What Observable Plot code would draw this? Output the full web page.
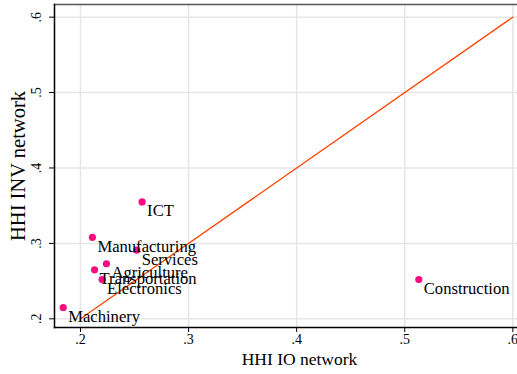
<!DOCTYPE html>
<html>
<head>
<meta charset="utf-8">
<script src="https://cdn.jsdelivr.net/npm/d3@7"></script>
<script src="https://cdn.jsdelivr.net/npm/@observablehq/plot@0.6"></script>
<style>
  html, body { margin: 0; padding: 0; background: #fff; overflow: hidden; }
  #chart { width: 517px; height: 374px; overflow: hidden; }
  #chart svg { max-width: none !important; }
</style>
</head>
<body>
<div id="chart"></div>
<script>
const sectors = ["Machinery", "Manufacturing", "ICT", "Services", "Agriculture", "Transportation", "Electronics", "Construction"];
const hhiIO  = [0.184, 0.211, 0.257, 0.252, 0.224, 0.213, 0.220, 0.513];
const hhiINV = [0.215, 0.308, 0.355, 0.291, 0.273, 0.265, 0.252, 0.252];
const fitX = [0.2, 0.6];
const fitY = [0.2, 0.6];
const ticks = [0.2, 0.3, 0.4, 0.5, 0.6];

const pts = sectors.map((s, i) => ({name: s, x: hhiIO[i], y: hhiINV[i]}));
const fit = fitX.map((x, i) => ({x, y: fitY[i]}));
const fmt = d => d3.format(".1f")(d).replace(/^0/, "");
const serif = "'Liberation Serif', 'Times New Roman', serif";

const chart = Plot.plot({
  width: 544,
  height: 374,
  marginLeft: 54,
  marginRight: 0,
  marginTop: 4,
  marginBottom: 47,
  style: {fontFamily: serif, background: "#fff", overflow: "visible", maxWidth: "none"},
  x: {domain: [0.17594, 0.6293]},
  y: {domain: [0.18846, 0.6168]},
  marks: [
    Plot.gridX(ticks, {stroke: "#e6e6e6", strokeOpacity: 1, strokeWidth: 1.5}),
    Plot.gridY(ticks, {stroke: "#e6e6e6", strokeOpacity: 1, strokeWidth: 1.5}),
    Plot.frame({anchor: "top", stroke: "#555", strokeWidth: 1.5}),
    Plot.frame({anchor: "left", stroke: "#000", strokeWidth: 1.5}),
    Plot.frame({anchor: "bottom", stroke: "#000", strokeWidth: 1.5}),
    Plot.axisX(ticks, {tickFormat: fmt, tickSize: 5, tickPadding: 2, fontSize: 14, label: "HHI IO network", labelAnchor: "center", labelArrow: "none", labelOffset: 37}),
    Plot.axisY(ticks, {tickFormat: fmt, tickSize: 5, tickPadding: 9, tickRotate: -90, fontSize: 14, label: "HHI INV network", labelAnchor: "center", labelArrow: "none", labelOffset: 44}),
    Plot.line(fit, {x: "x", y: "y", stroke: "#ff4500", strokeWidth: 1.3}),
    Plot.dot(pts, {x: "x", y: "y", r: 3.6, fill: "#ff0a80", stroke: "none"}),
    Plot.text(pts, {x: "x", y: "y", text: "name", textAnchor: "start", lineAnchor: "bottom", dx: 5, dy: 14.5, fontSize: 16.6, fill: "#000"})
  ]
});
document.getElementById("chart").appendChild(chart);
chart.querySelectorAll("text").forEach(t => {
  if (t.textContent === "HHI IO network") {
    t.setAttribute("font-size", "17.5");
    t.style.fontSize = "17.5px";
  }
  if (t.textContent === "HHI INV network") {
    t.setAttribute("font-size", "20.5");
    t.style.fontSize = "20.5px";
  }
});
</script>
</body>
</html>
